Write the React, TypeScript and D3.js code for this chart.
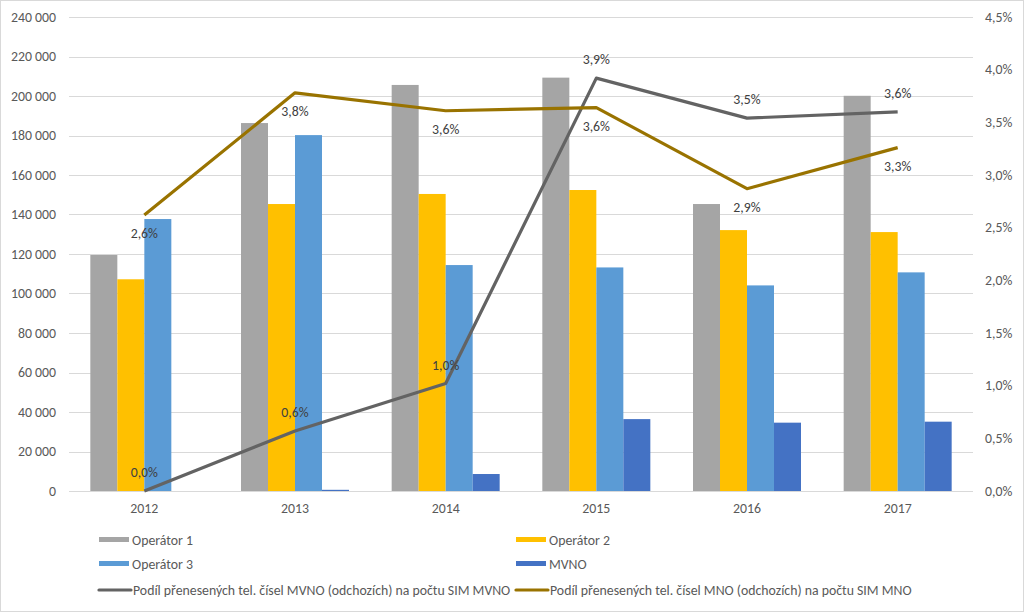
import React from "react";
import * as d3 from "d3";

const years = ["2012", "2013", "2014", "2015", "2016", "2017"];
const operator1 = [119500, 186300, 205600, 209300, 145300, 200100];
const operator2 = [107200, 145300, 150400, 152400, 132100, 131100];
const operator3 = [137700, 180200, 114400, 113200, 104100, 110700];
const mvno = [0, 600, 8600, 36400, 34600, 35100];
const shareMVNO = [0.0, 0.57, 1.02, 3.92, 3.54, 3.6];
const shareMNO = [2.62, 3.78, 3.61, 3.64, 2.87, 3.26];
const leftTicks = [0, 20000, 40000, 60000, 80000, 100000, 120000, 140000, 160000, 180000, 200000, 220000, 240000];
const rightTicks = [0, 0.5, 1, 1.5, 2, 2.5, 3, 3.5, 4, 4.5];

const barSeries = [
  { name: "Operátor 1", values: operator1, color: "#A5A5A5" },
  { name: "Operátor 2", values: operator2, color: "#FFC000" },
  { name: "Operátor 3", values: operator3, color: "#5B9BD5" },
  { name: "MVNO", values: mvno, color: "#4472C4" },
];
const lineSeries = [
  { name: "Podíl přenesených tel. čísel MVNO (odchozích) na počtu SIM MVNO", values: shareMVNO, color: "#636363", labelDy: -14 },
  { name: "Podíl přenesených tel. čísel MNO (odchozích) na počtu SIM MNO", values: shareMNO, color: "#997300", labelDy: 23 },
];

const W = 1024, H = 612;
const left = 69, right = 973, top = 17, bottom = 491;
const font = "Carlito, Calibri, 'Open Sans', sans-serif";
const fs = 13.8;

export default function App() {
  const x = d3.scaleBand().domain(years).range([left, right]).paddingInner(0).paddingOuter(0);
  const groupW = 108;
  const xb = d3.scaleBand().domain(barSeries.map(s => s.name)).range([0, groupW]).padding(0);
  const y = d3.scaleLinear().domain([0, 240000]).range([bottom, top]);
  const y2 = d3.scaleLinear().domain([0, 4.5]).range([bottom, top]);
  const fmtL = (v: number) => d3.format(",")(v).replace(/,/g, " ");
  const fmtP = (v: number) => v.toFixed(1).replace(".", ",") + "%";
  const cx = (yr: string) => (x(yr) as number) + x.bandwidth() / 2;
  const line = d3.line<number>().x((_, i) => cx(years[i])).y(v => y2(v));

  const legendItems = [
    { ...barSeries[0], kind: "bar", lx: 99, ly: 540 },
    { ...barSeries[1], kind: "bar", lx: 516, ly: 540 },
    { ...barSeries[2], kind: "bar", lx: 99, ly: 564 },
    { ...barSeries[3], kind: "bar", lx: 516, ly: 564 },
    { ...lineSeries[0], kind: "line", lx: 99, ly: 590 },
    { ...lineSeries[1], kind: "line", lx: 516, ly: 590 },
  ];

  return (
    <svg width={W} height={H} style={{ position: "absolute", left: 0, top: 0, background: "#fff" }} fontFamily={font}>
      <rect x={0.5} y={0.5} width={W - 1} height={H - 1} fill="#fff" stroke="#D9D9D9" />
      {leftTicks.map(t => (
        <g key={t}>
          <line x1={left} x2={right} y1={Math.round(y(t)) + 0.5} y2={Math.round(y(t)) + 0.5} stroke="#D9D9D9" strokeWidth={1} />
          <text x={56} y={y(t) + 4.8} textAnchor="end" fontSize={fs} fill="#595959">{fmtL(t)}</text>
        </g>
      ))}
      {rightTicks.map(t => (
        <text key={t} x={985} y={y2(t) + 4.8} textAnchor="start" fontSize={fs} fill="#595959">{fmtP(t)}</text>
      ))}
      {years.map(yr => (
        <text key={yr} x={cx(yr)} y={513} textAnchor="middle" fontSize={fs} fill="#595959">{yr}</text>
      ))}
      {barSeries.map(s => (
        <g key={s.name}>
          {s.values.map((v, i) => {
            const gx = cx(years[i]) - groupW / 2 + (xb(s.name) as number);
            return <rect key={i} x={gx} y={y(v)} width={xb.bandwidth()} height={bottom - y(v)} fill={s.color} />;
          })}
        </g>
      ))}
      {lineSeries.map(s => (
        <path key={s.name} d={line(s.values) || ""} fill="none" stroke={s.color} strokeWidth={3.2} strokeLinejoin="round" />
      ))}
      {lineSeries.map(s => (
        <g key={s.name + "l"}>
          {s.values.map((v, i) => (
            <text key={i} x={cx(years[i])} y={y2(v) + s.labelDy} textAnchor="middle" fontSize={fs} fill="#404040">{fmtP(v)}</text>
          ))}
        </g>
      ))}
      {legendItems.map(it => (
        <g key={it.name}>
          {it.kind === "bar" ? (
            <rect x={it.lx} y={it.ly - 3} width={30} height={5} fill={it.color} />
          ) : (
            <line x1={it.lx} x2={it.lx + 32} y1={it.ly} y2={it.ly} stroke={it.color} strokeWidth={3.2} strokeLinecap="round" />
          )}
          <text x={it.lx + (it.kind === "bar" ? 33 : 34)} y={it.ly + 4.8} fontSize={fs} fill="#595959">{it.name}</text>
        </g>
      ))}
    </svg>
  );
}
